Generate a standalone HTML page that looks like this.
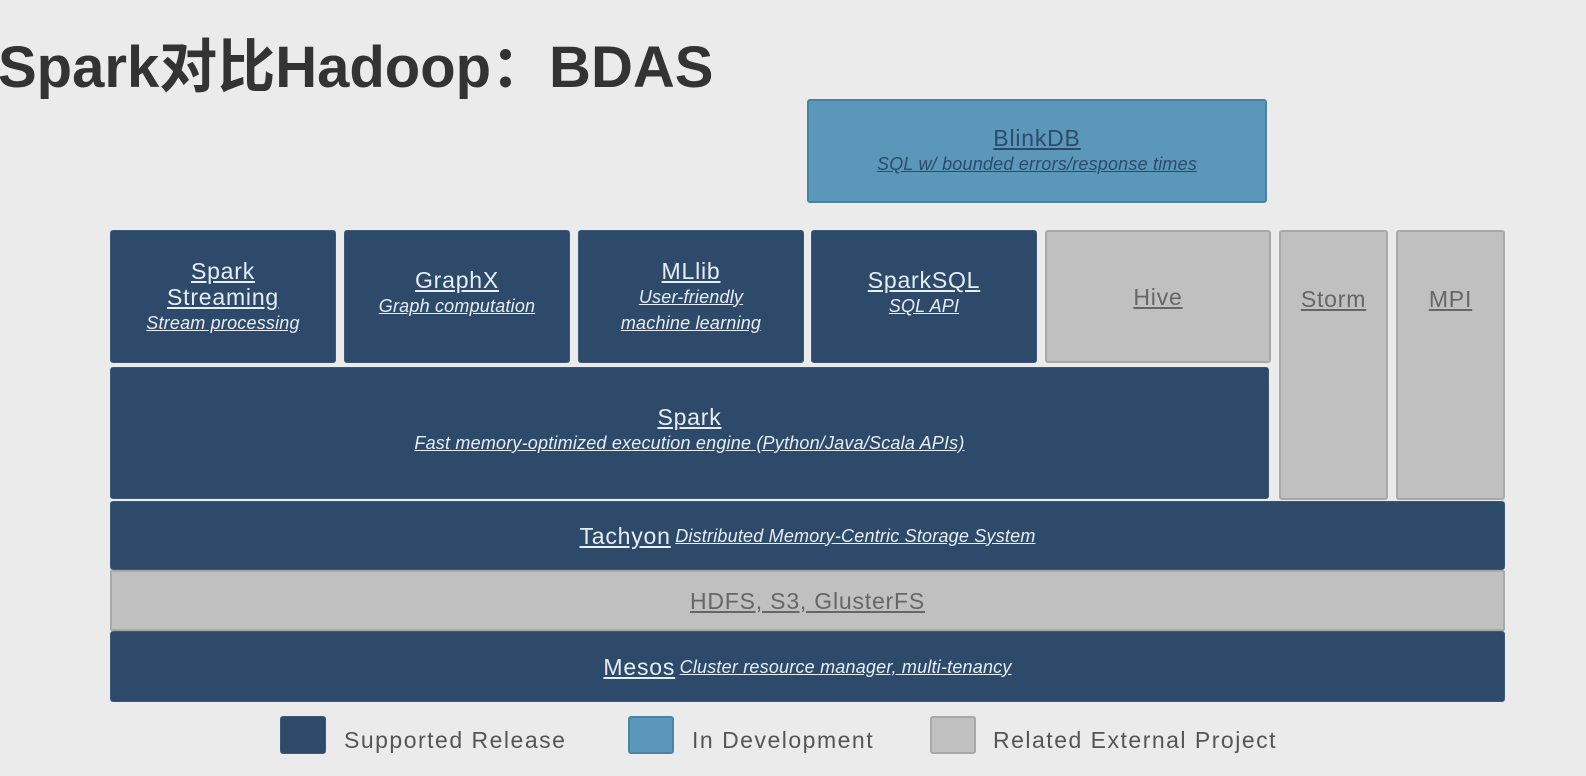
<!DOCTYPE html>
<html><head><meta charset="utf-8"><style>
html,body{margin:0;padding:0;}
body{width:1586px;height:776px;background:#ebebeb;position:relative;overflow:hidden;font-family:"Liberation Sans","Noto Sans CJK SC",sans-serif;}
.t{position:absolute;left:-2px;top:20px;font-size:58px;font-weight:bold;color:#333;letter-spacing:0px;}
.b{position:absolute;box-sizing:border-box;border-radius:3px;display:flex;flex-direction:column;align-items:center;justify-content:center;text-align:center;color:#e8edf3;}
.d{background:#2e4a6b;border:1px solid #3d5877;}
.g{background:#c0c0c0;border:2px solid #a8a8a8;color:#666;}
.l{background:#5b97b8;border:2px solid #4a84a5;color:#2e4a6b;}
.n{font-size:23px;text-decoration:underline;line-height:26px;letter-spacing:0.8px;}
.s{font-size:18px;font-style:italic;text-decoration:underline;line-height:26px;letter-spacing:0.2px;}
.lg{position:absolute;width:46px;height:38px;border-radius:3px;box-sizing:border-box;}
.lt{position:absolute;top:727px;font-size:23px;color:#555;letter-spacing:1.5px;}
</style></head><body>
<div class="t">Spark对比Hadoop：BDAS</div>
<div class="b l" style="left:807px;top:99px;width:460px;height:104px"><div class="n">BlinkDB</div><div class="s">SQL w/ bounded errors/response times</div></div>
<div class="b d" style="left:110px;top:230px;width:226px;height:133px"><div class="n">Spark<br>Streaming</div><div class="s">Stream processing</div></div>
<div class="b d" style="left:344px;top:230px;width:226px;height:133px;justify-content:flex-start;padding-top:36px"><div class="n">GraphX</div><div class="s">Graph computation</div></div>
<div class="b d" style="left:578px;top:230px;width:226px;height:133px"><div class="n">MLlib</div><div class="s">User-friendly<br>machine learning</div></div>
<div class="b d" style="left:811px;top:230px;width:226px;height:133px;justify-content:flex-start;padding-top:36px"><div class="n">SparkSQL</div><div class="s">SQL API</div></div>
<div class="b g" style="left:1045px;top:230px;width:226px;height:133px"><div class="n">Hive</div></div>
<div class="b g" style="left:1279px;top:230px;width:109px;height:270px;justify-content:flex-start;padding-top:54px"><div class="n">Storm</div></div>
<div class="b g" style="left:1396px;top:230px;width:109px;height:270px;justify-content:flex-start;padding-top:54px"><div class="n">MPI</div></div>
<div class="b d" style="left:110px;top:367px;width:1159px;height:132px;justify-content:flex-start;padding-top:36px"><div class="n">Spark</div><div class="s">Fast memory-optimized execution engine (Python/Java/Scala APIs)</div></div>
<div class="b d" style="left:110px;top:501px;width:1395px;height:69px;flex-direction:row"><span class="n">Tachyon</span>&nbsp;<span class="s">Distributed Memory-Centric Storage System</span></div>
<div class="b g" style="left:110px;top:570px;width:1395px;height:61px;border-radius:2px"><div class="n">HDFS, S3, GlusterFS</div></div>
<div class="b d" style="left:110px;top:631px;width:1395px;height:71px;flex-direction:row"><span class="n">Mesos</span>&nbsp;<span class="s">Cluster resource manager, multi-tenancy</span></div>
<div class="lg d" style="left:280px;top:716px"></div><div class="lt" style="left:344px">Supported Release</div>
<div class="lg l" style="left:628px;top:716px"></div><div class="lt" style="left:692px">In Development</div>
<div class="lg g" style="left:930px;top:716px"></div><div class="lt" style="left:993px">Related External Project</div>
</body></html>
